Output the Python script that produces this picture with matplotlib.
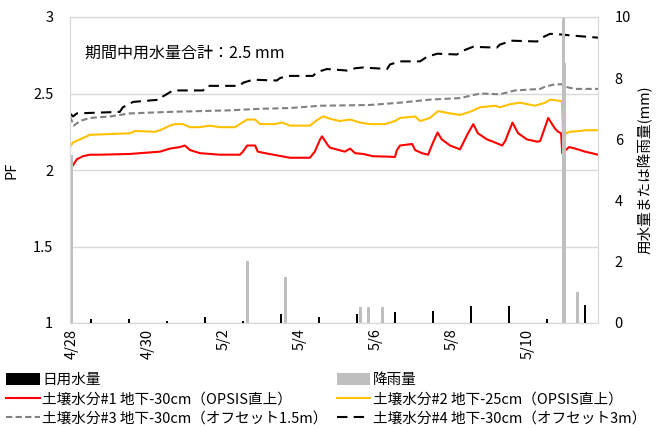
import matplotlib
matplotlib.use("Agg")
import matplotlib.pyplot as plt
from matplotlib.patches import Patch
from matplotlib.lines import Line2D

plt.rcParams['font.family'] = ['Noto Sans CJK JP', 'DejaVu Sans']

# ---- data (days since 4/28 00:00) ----
tick_days = [0, 2, 4, 6, 8, 10, 12]
tick_labels = ["4/28", "4/30", "5/2", "5/4", "5/6", "5/8", "5/10"]

water_days = [0.5, 1.5, 2.5, 3.5, 4.5, 5.5, 6.5, 7.5, 8.5, 9.5, 10.5, 11.5, 12.5, 13.5]
water_mm = [0.13, 0.13, 0.07, 0.2, 0.08, 0.3, 0.18, 0.3, 0.35, 0.39, 0.56, 0.57, 0.14, 0.6]

rain_days = [0.0, 4.63, 5.63, 7.58, 7.79, 8.16, 12.92, 12.97, 13.29]
rain_mm = [5.5, 2.03, 1.5, 0.53, 0.53, 0.53, 10.5, 8.5, 1.0]

s1_t = [-0.05, 0.0, 0.13, 0.29, 0.47, 0.74, 1.53, 2.32, 2.58, 2.84, 2.97, 3.11, 3.37, 3.89,
        4.42, 4.5, 4.61, 4.82, 4.89, 5.08, 5.74, 6.26, 6.39, 6.53, 6.58, 6.74, 6.79, 7.18,
        7.32, 7.45, 7.66, 7.92, 8.37, 8.5, 8.55, 8.63, 8.95, 9.03, 9.21, 9.37, 9.5, 9.62,
        9.73, 9.95, 10.21, 10.42, 10.56, 10.68, 10.92, 11.08, 11.32, 11.4, 11.59, 11.74,
        11.97, 12.24, 12.32, 12.53, 12.71, 12.79, 12.87, 12.9, 13.08, 13.24, 13.5, 13.84]
s1_v = [2.06, 2.02, 2.07, 2.09, 2.10, 2.10, 2.105, 2.12, 2.14, 2.15, 2.16, 2.13, 2.11, 2.10,
        2.10, 2.12, 2.16, 2.16, 2.12, 2.11, 2.08, 2.08, 2.12, 2.20, 2.22, 2.16, 2.146, 2.12,
        2.14, 2.11, 2.105, 2.09, 2.087, 2.085, 2.13, 2.16, 2.17, 2.13, 2.11, 2.10, 2.18, 2.245,
        2.20, 2.16, 2.135, 2.24, 2.30, 2.24, 2.20, 2.185, 2.16, 2.19, 2.31, 2.24,
        2.20, 2.185, 2.19, 2.34, 2.27, 2.25, 2.24, 2.11, 2.15, 2.14, 2.12, 2.10]

s2_t = [-0.05, 0.03, 0.21, 0.39, 0.47, 1.0, 1.53, 1.66, 2.18, 2.32, 2.58, 2.71, 2.92, 3.11,
        3.37, 3.63, 3.89, 4.29, 4.42, 4.61, 4.82, 4.95, 5.34, 5.53, 5.74, 6.13, 6.26, 6.47,
        6.61, 6.79, 7.05, 7.32, 7.58, 7.84, 8.24, 8.5, 8.63, 9.03, 9.16, 9.42, 9.63, 9.95,
        10.21, 10.47, 10.74, 11.13, 11.26, 11.53, 11.79, 12.18, 12.45, 12.58, 12.89, 12.92,
        13.0, 13.1, 13.37, 13.5, 13.84]
s2_v = [2.15, 2.18, 2.20, 2.22, 2.23, 2.235, 2.24, 2.255, 2.25, 2.26, 2.29, 2.30, 2.30, 2.28,
        2.28, 2.29, 2.28, 2.28, 2.30, 2.33, 2.33, 2.30, 2.30, 2.31, 2.29, 2.29, 2.29, 2.33,
        2.35, 2.335, 2.32, 2.33, 2.31, 2.30, 2.30, 2.32, 2.34, 2.35, 2.32, 2.34, 2.385, 2.37,
        2.36, 2.38, 2.41, 2.42, 2.41, 2.43, 2.44, 2.42, 2.44, 2.46, 2.45, 2.23,
        2.24, 2.25, 2.255, 2.26, 2.26]

s3_t = [-0.05, 0.05, 0.21, 0.47, 1.0, 1.53, 2.58, 3.37, 4.16, 4.95, 5.74, 6.53, 7.84, 8.63,
        9.42, 10.21, 10.74, 11.26, 11.66, 12.32, 12.45, 12.71, 12.89, 13.05, 13.24, 13.84]
s3_v = [2.35, 2.29, 2.32, 2.34, 2.35, 2.37, 2.38, 2.385, 2.39, 2.40, 2.405, 2.42, 2.425, 2.44,
        2.46, 2.47, 2.50, 2.495, 2.52, 2.53, 2.545, 2.56, 2.56, 2.54, 2.53, 2.53]

s4_t = [-0.05, 0.03, 0.13, 1.26, 1.34, 1.61, 2.32, 2.39, 2.66, 3.45, 3.55, 4.42, 4.5, 4.76,
        5.39, 5.47, 5.66, 6.34, 6.45, 6.71, 7.24, 7.45, 7.66, 8.29, 8.37, 8.63, 9.16, 9.34,
        9.61, 10.13, 10.29, 10.55, 11.18, 11.26, 11.58, 12.24, 12.32, 12.58, 12.92, 13.1, 13.84]
s4_v = [2.37, 2.35, 2.37, 2.38, 2.41, 2.445, 2.46, 2.48, 2.52, 2.52, 2.55, 2.55, 2.57, 2.59,
        2.585, 2.60, 2.615, 2.615, 2.64, 2.66, 2.65, 2.665, 2.67, 2.66, 2.69, 2.71, 2.71, 2.74,
        2.76, 2.755, 2.78, 2.805, 2.80, 2.82, 2.845, 2.84, 2.86, 2.89, 2.885, 2.88, 2.865]

labels = ["日用水量", "降雨量",
          "土壌水分#1 地下-30cm（OPSIS直上）", "土壌水分#2 地下-25cm（OPSIS直上）",
          "土壌水分#3 地下-30cm（オフセット1.5m）", "土壌水分#4 地下-30cm（オフセット3m）"]

# ---- figure ----
W, H = 663, 428
fig = plt.figure(figsize=(W / 100, H / 100), dpi=100)
ax = fig.add_axes([70 / W, 1 - 323 / H, (598 - 70) / W, (323 - 17) / H])

grid_c = '#d9d9d9'
ax.set_ylim(1, 3)
ax.set_xlim(-0.05, 13.84)
ax.set_yticks([1, 1.5, 2, 2.5, 3])
ax.set_yticklabels(["1", "1.5", "2", "2.5", "3"])
ax.grid(axis='y', color=grid_c, lw=1)
ax.set_axisbelow(True)
ax.set_xticks(tick_days)
ax.set_xticklabels(tick_labels, rotation=90)
ax.tick_params(length=0, labelsize=10.5, pad=12)
ax.tick_params(axis='x', pad=4)
for sp in ax.spines.values():
    sp.set_color(grid_c)

ax.plot(s1_t, s1_v, color='#ff0000', lw=1.5)
ax.plot(s2_t, s2_v, color='#ffc000', lw=1.5)
ax.plot(s3_t, s3_v, color='#808080', lw=1.5, dashes=(3, 1.6))
ax.plot(s4_t, s4_v, color='#000000', lw=1.5, dashes=(5, 3))
ax.set_ylabel("PF", fontsize=10.5)
ax.yaxis.set_label_coords((18 - 70) / 528, 0.5)

ax2 = ax.twinx()
ax2.set_ylim(0, 10)
ax2.set_yticks([0, 2, 4, 6, 8, 10])
ax2.tick_params(length=0, labelsize=10.5, pad=12)
for sp in ax2.spines.values():
    sp.set_color(grid_c)
ax2.bar(water_days, water_mm, width=0.07, color='#000000', zorder=3)
ax2.bar(rain_days, rain_mm, width=0.08, color='#bfbfbf', zorder=2)
ax2.set_ylabel("用水量または降雨量(mm)", fontsize=10.5, rotation=90, va='center')
ax2.yaxis.set_label_coords((645 - 70) / 528, 0.5)

ax.text(0.028, 0.882, "期間中用水量合計：2.5 mm", transform=ax.transAxes,
        fontsize=11.5, va='center', ha='left')

handles = [Patch(facecolor='#000000'), Line2D([], [], color='#ff0000', lw=1.5),
           Line2D([], [], color='#808080', lw=1.5, dashes=(3, 1.6)),
           Patch(facecolor='#bfbfbf'), Line2D([], [], color='#ffc000', lw=1.5),
           Line2D([], [], color='#000000', lw=1.5, dashes=(5, 3))]
leg_labels = [labels[0], labels[2], labels[4], labels[1], labels[3], labels[5]]
fig.legend(handles, leg_labels, ncol=2, loc='upper left',
           bbox_to_anchor=(6 / W, 1 - 373 / H), frameon=False, fontsize=10.5,
           handlelength=2.3, handleheight=0.8, handletextpad=0.2, labelspacing=0.35,
           columnspacing=0.6, borderaxespad=0, borderpad=0)

fig.savefig("out.png", dpi=100)
